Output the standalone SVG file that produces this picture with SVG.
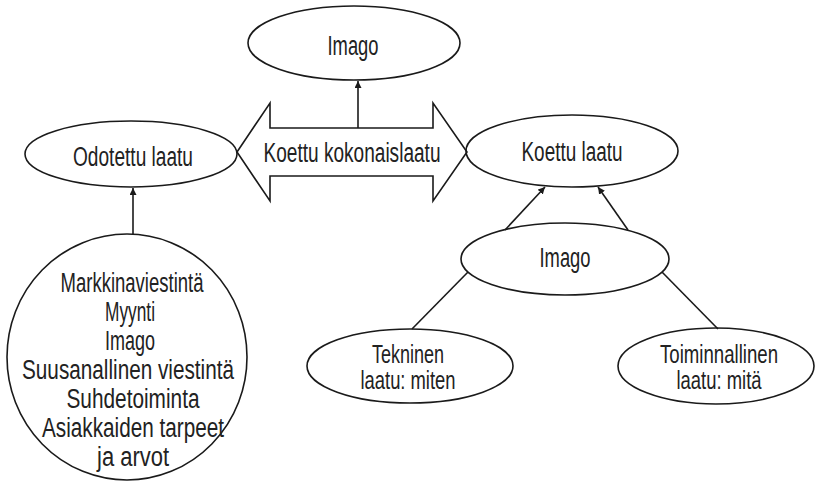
<svg xmlns="http://www.w3.org/2000/svg" width="828" height="483" viewBox="0 0 828 483">
<defs>
<style>
.shape{fill:none;stroke:#1a1a1a;stroke-width:1.6}
.ln{fill:none;stroke:#1a1a1a;stroke-width:1.6}
.t{font-family:"Liberation Sans Narrow","Liberation Sans",Arial,sans-serif;font-size:27px;fill:#222;text-anchor:middle}
.s{font-size:25px}
</style>
<marker id="ah" viewBox="0 0 10 10" refX="10" refY="5" markerWidth="7" markerHeight="7" markerUnits="userSpaceOnUse" orient="auto">
<path d="M0,0 L10,5 L0,10 Z" fill="#1a1a1a"/>
</marker>
</defs>
<rect width="828" height="483" fill="#ffffff"/>
<g id="connectors">
<line class="ln" x1="358" y1="128" x2="358" y2="81" marker-end="url(#ah)"/>
<line class="ln" x1="133" y1="234" x2="133" y2="188" marker-end="url(#ah)"/>
<line class="ln" x1="505" y1="230" x2="545" y2="187" marker-end="url(#ah)"/>
<line class="ln" x1="628" y1="230" x2="598" y2="187" marker-end="url(#ah)"/>
<line class="ln" x1="468" y1="272" x2="412" y2="329"/>
<line class="ln" x1="662" y1="272" x2="718" y2="329"/>
</g>
<g id="imago-top">
<ellipse class="shape" cx="354" cy="43" rx="106" ry="37"/>
<text class="t" x="353" y="55" textLength="51" lengthAdjust="spacingAndGlyphs">Imago</text>
</g>
<g id="kokonaislaatu">
<polygon class="shape" points="237,152 270,103 270,128 433,128 433,103 467,152 433,201 433,176 270,176 270,201"/>
<text class="t" x="352" y="162" textLength="177" lengthAdjust="spacingAndGlyphs">Koettu kokonaislaatu</text>
</g>
<g id="odotettu">
<ellipse class="shape" cx="131" cy="154" rx="106" ry="33"/>
<text class="t" x="133" y="166" textLength="120" lengthAdjust="spacingAndGlyphs">Odotettu laatu</text>
</g>
<g id="koettu">
<ellipse class="shape" cx="572" cy="151" rx="106" ry="36"/>
<text class="t" x="572" y="161" textLength="101" lengthAdjust="spacingAndGlyphs">Koettu laatu</text>
</g>
<g id="tekijat">
<ellipse class="shape" cx="127" cy="357" rx="120" ry="123"/>
<text class="t" x="132" y="292" textLength="143" lengthAdjust="spacingAndGlyphs">Markkinaviestintä</text>
<text class="t" x="130" y="321" textLength="50" lengthAdjust="spacingAndGlyphs">Myynti</text>
<text class="t" x="130" y="350" textLength="50" lengthAdjust="spacingAndGlyphs">Imago</text>
<text class="t" x="128" y="379" textLength="212" lengthAdjust="spacingAndGlyphs">Suusanallinen viestintä</text>
<text class="t" x="133" y="408" textLength="133" lengthAdjust="spacingAndGlyphs">Suhdetoiminta</text>
<text class="t" x="133" y="437" textLength="182" lengthAdjust="spacingAndGlyphs">Asiakkaiden tarpeet</text>
<text class="t" x="133" y="466" textLength="72" lengthAdjust="spacingAndGlyphs">ja arvot</text>
</g>
<g id="imago-lower">
<ellipse class="shape" cx="565" cy="259" rx="104" ry="36"/>
<text class="t" x="565" y="267" textLength="51" lengthAdjust="spacingAndGlyphs">Imago</text>
</g>
<g id="tekninen">
<ellipse class="shape" cx="410" cy="366" rx="103" ry="37"/>
<text class="t s" x="408" y="363" textLength="72" lengthAdjust="spacingAndGlyphs">Tekninen</text>
<text class="t s" x="408" y="389" textLength="95" lengthAdjust="spacingAndGlyphs">laatu: miten</text>
</g>
<g id="toiminnallinen">
<ellipse class="shape" cx="716" cy="366" rx="98" ry="38"/>
<text class="t s" x="719" y="363" textLength="118" lengthAdjust="spacingAndGlyphs">Toiminnallinen</text>
<text class="t s" x="719" y="389" textLength="85" lengthAdjust="spacingAndGlyphs">laatu: mitä</text>
</g>
</svg>
